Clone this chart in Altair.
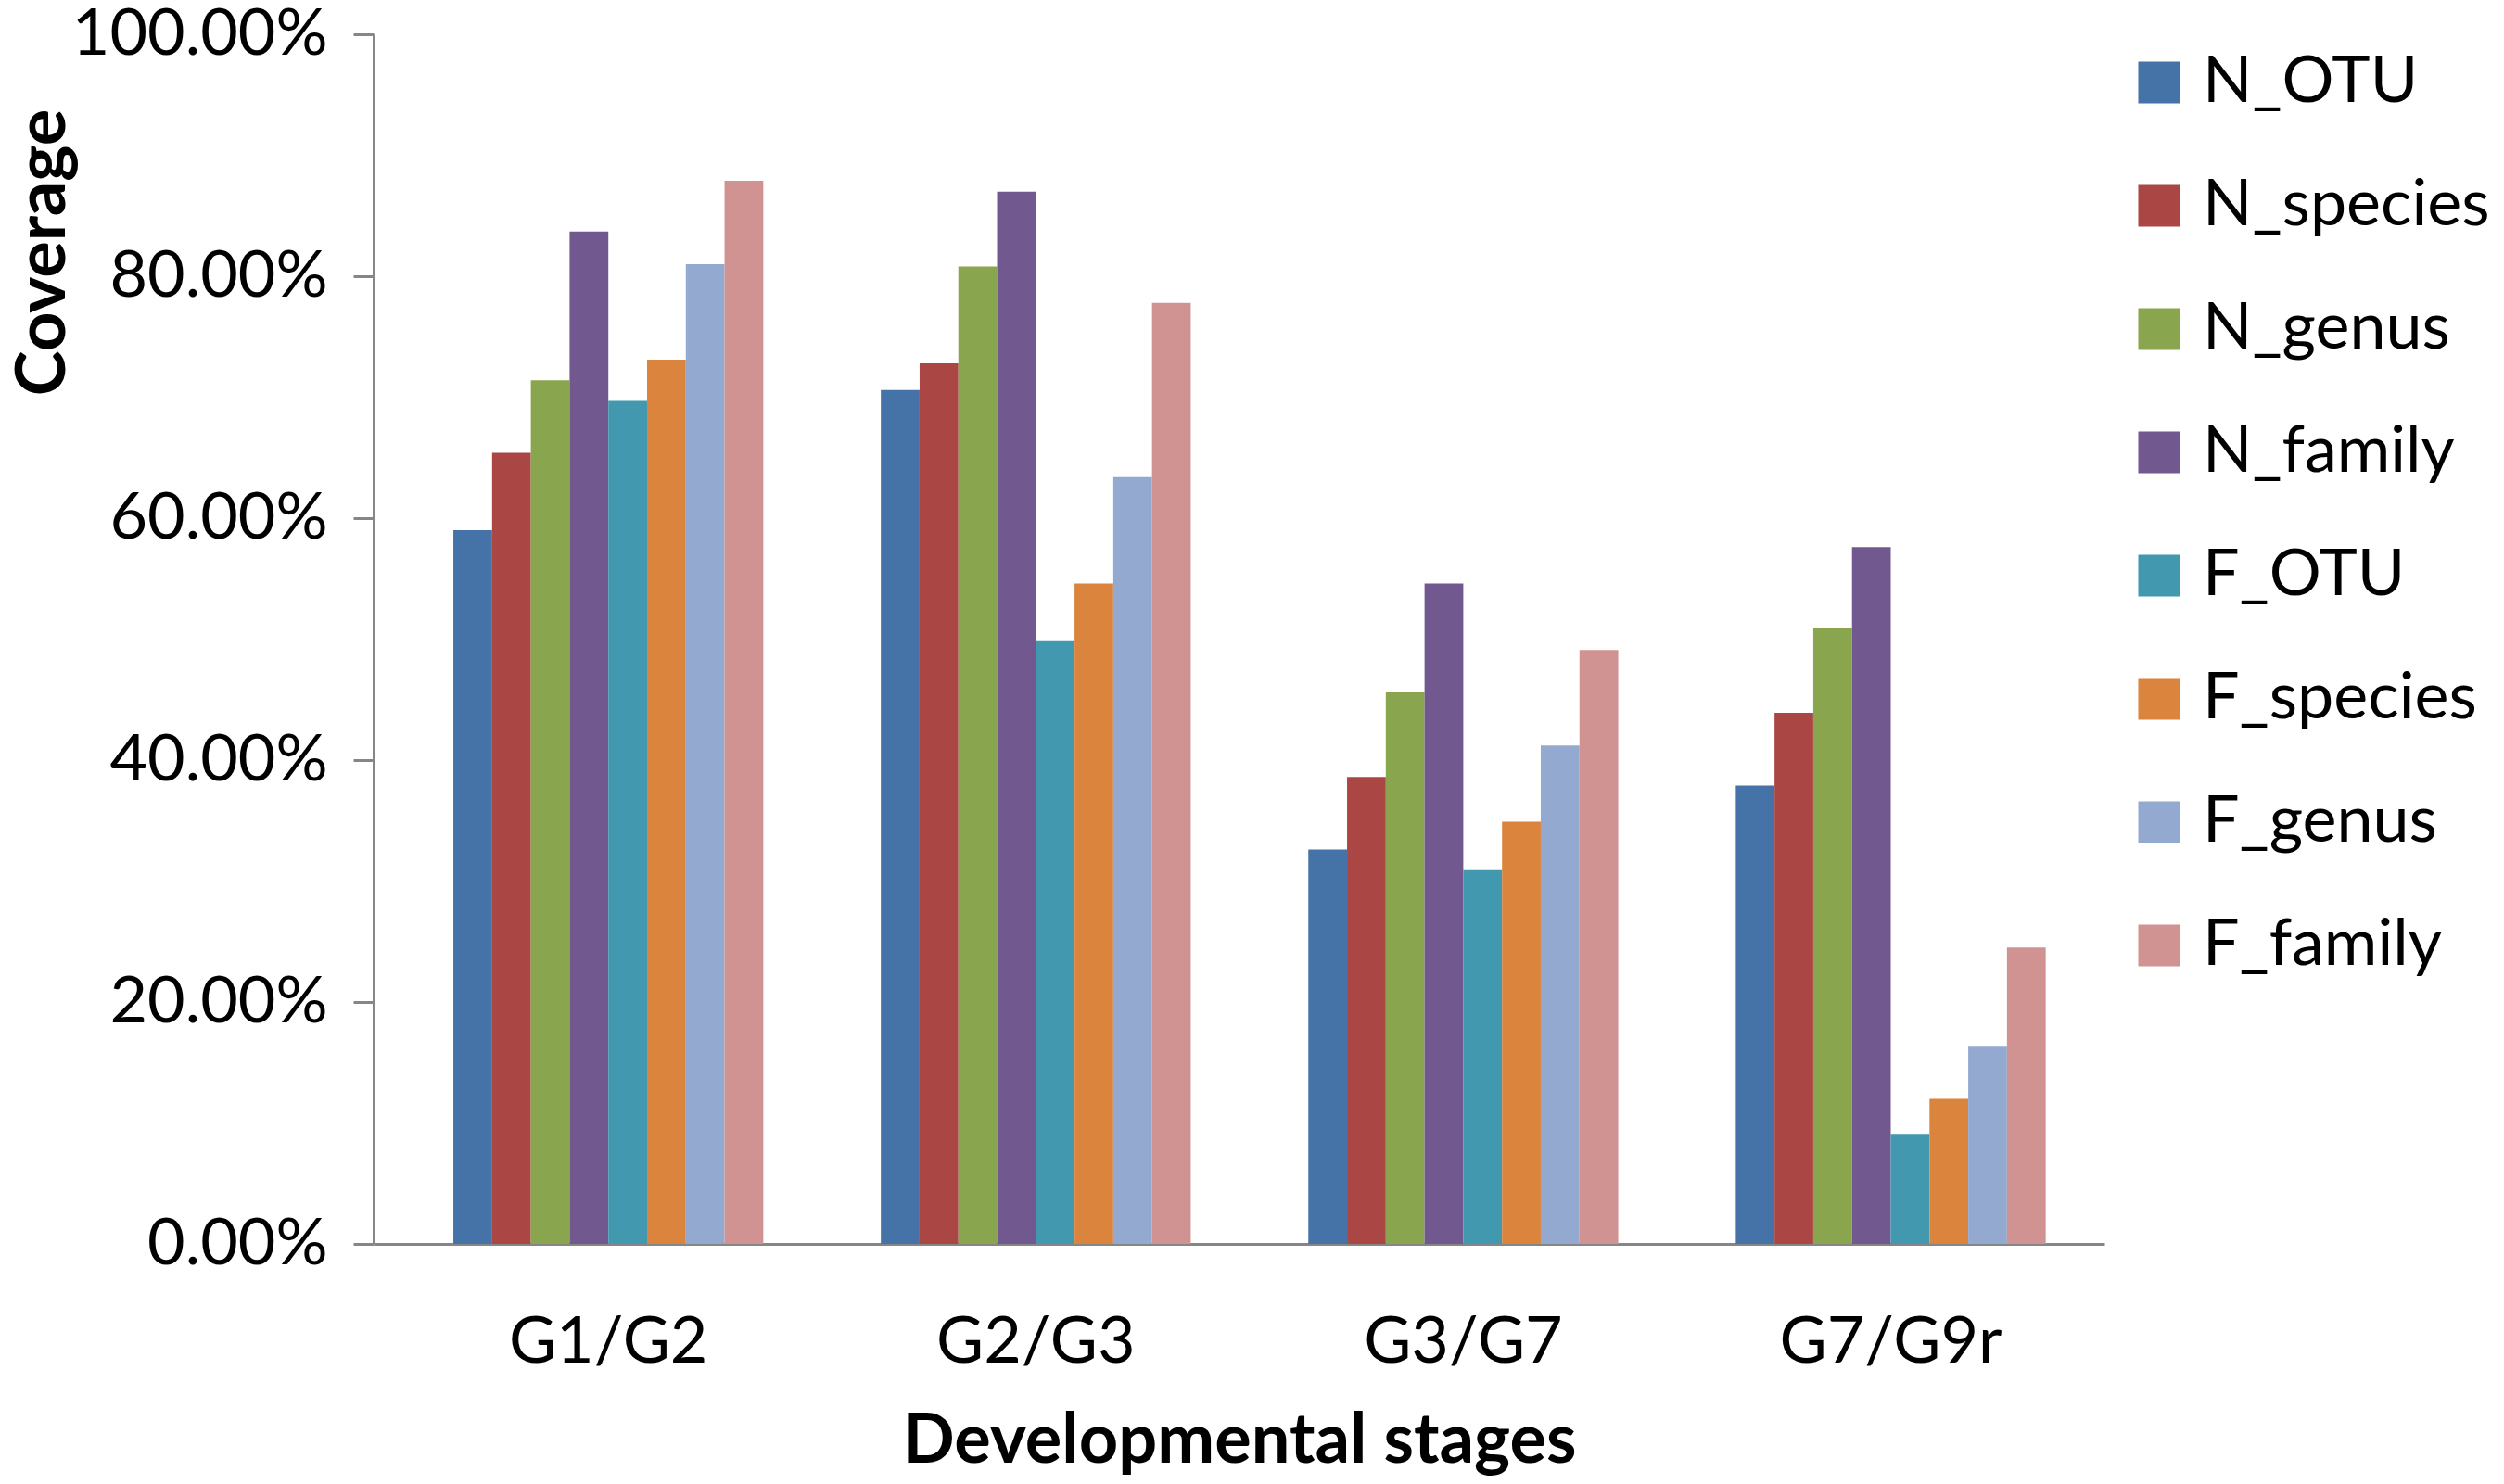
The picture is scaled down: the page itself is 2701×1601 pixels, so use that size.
import altair as alt
import pandas as pd

stages = ["G1/G2", "G2/G3", "G3/G7", "G7/G9r"]
series = ["N_OTU", "N_species", "N_genus", "N_family", "F_OTU", "F_species", "F_genus", "F_family"]
colors = ["#4572A7", "#AA4643", "#89A54E", "#71588F", "#4198AF", "#DB843D", "#93A9CF", "#D19392"]

N_OTU = [0.590, 0.706, 0.326, 0.379]
N_species = [0.654, 0.728, 0.386, 0.439]
N_genus = [0.714, 0.808, 0.456, 0.509]
N_family = [0.837, 0.870, 0.546, 0.576]
F_OTU = [0.697, 0.499, 0.309, 0.091]
F_species = [0.731, 0.546, 0.349, 0.120]
F_genus = [0.810, 0.634, 0.412, 0.163]
F_family = [0.879, 0.778, 0.491, 0.245]

values = [N_OTU, N_species, N_genus, N_family, F_OTU, F_species, F_genus, F_family]
rows = []
for s, vals in zip(series, values):
    for st, v in zip(stages, vals):
        rows.append({"stage": st, "series": s, "coverage": v})
df = pd.DataFrame(rows)

FONT = "Lato"

chart = alt.Chart(df).mark_bar().encode(
    x=alt.X("stage:N", sort=stages,
            scale=alt.Scale(paddingInner=0.275, paddingOuter=0.162, align=0.576),
            axis=alt.Axis(title="Developmental stages", labelAngle=0, ticks=False,
                          labelFontSize=70, labelPadding=72, labelFont=FONT, labelColor="black",
                          labelLimit=1000,
                          titleFontSize=74, titleFont=FONT, titleFontWeight="bold", titleColor="black",
                          titlePadding=36,
                          domainColor="#868686", domainWidth=3)),
    xOffset=alt.XOffset("series:N", sort=series),
    y=alt.Y("coverage:Q",
            scale=alt.Scale(domain=[0, 1], nice=False),
            axis=alt.Axis(title="Coverage", format=".2%", values=[0, 0.2, 0.4, 0.6, 0.8, 1.0],
                          grid=False, tickSize=22, tickWidth=3, tickColor="#868686",
                          domainColor="#868686", domainWidth=3,
                          labelFontSize=70, labelPadding=28, labelFont=FONT, labelColor="black",
                          labelLimit=1000,
                          titleFontSize=74, titleFont=FONT, titleFontWeight="bold", titleColor="black",
                          titleAngle=-90, titleX=-356, titleY=235,
                          titleAlign="center", titleBaseline="middle")),
    color=alt.Color("series:N", sort=series,
                    scale=alt.Scale(domain=series, range=colors),
                    legend=alt.Legend(title=None, orient="none", legendX=1891, legendY=17,
                                      symbolType="square", symbolSize=2025, symbolStrokeWidth=0,
                                      labelFontSize=70, labelFont=FONT, labelColor="black",
                                      labelOffset=12, rowPadding=63, labelLimit=600)),
).properties(
    width=1867, height=1305,
    padding={"left": 395, "top": 29, "right": 423, "bottom": 251},
    autosize=alt.AutoSizeParams(type="none"),
).configure_view(stroke=None)

chart.save("out.html", embed_options={"renderer": "svg", "actions": False})
